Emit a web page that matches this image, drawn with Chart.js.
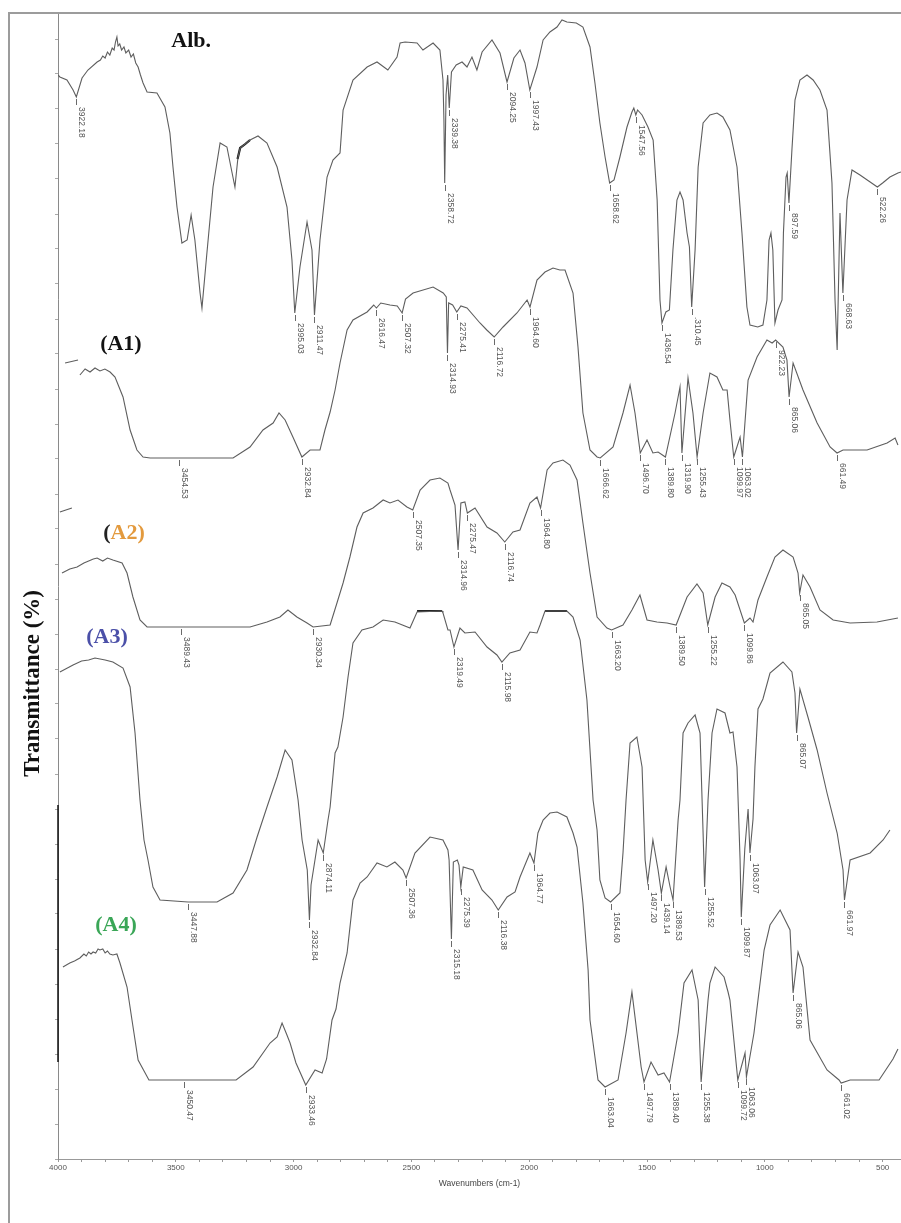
<!DOCTYPE html>
<html><head><meta charset="utf-8">
<script src="https://cdn.jsdelivr.net/npm/chart.js@4.4.1/dist/chart.umd.min.js"></script>
<style>html,body{margin:0;padding:0;background:#fff;overflow:hidden}canvas{display:block}</style>
</head><body>
<canvas id="c" width="901" height="1223"></canvas>
<script>
// [wavenumber (cm-1), transmittance (offset, arbitrary %)]
const albSpectrum = [[4000,108.4],[3992,108.2],[3962,107.9],[3936,106.9],[3922.18,106.2],[3898,108.1],[3873,108.9],[3834,109.7],[3820,109.9],[3810,110.3],[3800,110.1],[3790,110.7],[3780,110.4],[3770,111.1],[3762,110.9],[3756,111.7],[3750,112.2],[3745,111.3],[3738,111.5],[3730,110.9],[3720,111.2],[3712,110.6],[3700,110.9],[3690,110.2],[3680,110.5],[3670,109.6],[3660,109.2],[3650,108.4],[3639,107.6],[3622,106.7],[3580,106.6],[3546,105.2],[3525,102.6],[3512,99.2],[3495,95.2],[3474,91.6],[3452,91.9],[3435,94.4],[3419,91.9],[3397,86.6],[3389,85.1],[3368,90.6],[3342,97.2],[3312,101.6],[3283,101.2],[3261,98.6],[3249,97.2],[3236,100.2],[3227,101.1],[3185,101.9],[3151,102.3],[3113,101.6],[3070,99.2],[3028,95.2],[3007,89.9],[2995.03,84.6],[2973,89.2],[2943,93.7],[2922,90.9],[2911.47,84.4],[2888,91.9],[2858,98.2],[2833,99.9],[2803,100.6],[2790,104.9],[2748,107.9],[2688,109.2],[2646,109.7],[2600,108.9],[2561,110.2],[2548,111.6],[2527,111.7],[2476,111.6],[2451,110.9],[2408,111.6],[2379,110.9],[2366,107.9],[2362,103.9],[2358.72,97.6],[2353,106.4],[2346,108.4],[2339.38,105.1],[2330,108.7],[2310,109.4],[2285,109.7],[2264,109.2],[2243,110.2],[2222,108.9],[2200,110.7],[2158,111.9],[2124,110.6],[2094.25,107.7],[2065,110.1],[2039,110.9],[2018,109.6],[1997.43,106.9],[1967,109.2],[1941,111.9],[1912,112.7],[1882,113.2],[1861,113.9],[1840,113.7],[1800,113.6],[1772,113.2],[1742,111.2],[1721,107.6],[1700,103.6],[1678,100.2],[1658.62,97.6],[1640,97.9],[1615,100.2],[1585,103.2],[1564,104.7],[1556,105.1],[1547.56,104.4],[1540,104.9],[1521,104.4],[1496,103.2],[1474,101.9],[1457,95.9],[1445,85.9],[1436.54,83.6],[1420,84.7],[1405,84.9],[1390,90.9],[1373,95.9],[1360,96.7],[1347,95.9],[1330,92.6],[1320,91.2],[1310.45,85.2],[1296,90.9],[1283,99.2],[1262,103.6],[1233,104.4],[1203,104.6],[1178,104.2],[1148,102.9],[1118,99.2],[1097,92.6],[1076,85.2],[1063,83.4],[1030,83.2],[1008,83.4],[991,85.9],[982,91.9],[974,92.6],[966,90.9],[957,83.6],[944,84.9],[927,85.9],[921,92.6],[910,98.2],[905,98.6],[897.59,95.6],[885,100.9],[872,105.9],[851,107.9],[821,108.4],[795,107.9],[766,106.9],[736,104.9],[715,97.6],[702,85.9],[693,80.9],[681,94.6],[668.63,86.6],[651,95.9],[630,98.9],[596,98.4],[553,97.7],[522.26,97.2],[500,97.6],[469,98.2],[435,98.6],[422,98.7]];
const albMark = [[3238,100.0],[3227,101.1],[3205,101.5],[3185,101.9]];

const a1Spectrum = [[3970,79.6],[3915,79.9],[3912,null],[3907,78.4],[3885,79.0],[3864,78.7],[3843,79.1],[3822,78.8],[3801,79.0],[3779,78.7],[3758,78.2],[3724,76.2],[3694,72.9],[3665,70.9],[3639,70.2],[3609,70.1],[3486.53,70.1],[3257,70.1],[3185,71.2],[3130,72.9],[3087,73.6],[3062,74.6],[3036,73.9],[3003,72.2],[2964.84,70.2],[2930,70.9],[2888,70.9],[2867,72.9],[2845,74.7],[2824,76.9],[2803,79.6],[2773,82.9],[2748,83.9],[2688,84.7],[2660,85.4],[2648.47,85.1],[2630,85.6],[2591,85.4],[2560,85.3],[2539.32,84.6],[2525,86.0],[2493,86.6],[2408,87.2],[2365,86.6],[2352,86.2],[2346.93,80.6],[2342,85.6],[2325,85.4],[2307.41,84.7],[2290,85.3],[2264,85.1],[2209,83.6],[2180,82.9],[2148.72,82.2],[2111,83.2],[2052,84.6],[2009,85.9],[1996.6,85.2],[1967,87.9],[1933,88.7],[1899,89.1],[1870,88.9],[1848,88.9],[1814,86.6],[1793,81.2],[1772,74.6],[1742,70.9],[1712,70.2],[1698.62,70.1],[1644,71.2],[1602,74.6],[1572,77.4],[1551,74.6],[1528.7,70.6],[1500,71.9],[1475,70.6],[1453,70.7],[1421.8,70.2],[1381,74.6],[1360,77.2],[1351.9,70.6],[1326,78.1],[1305,74.6],[1287.43,70.2],[1262,74.6],[1233,78.6],[1203,78.2],[1178,76.9],[1160,76.9],[1148,73.9],[1131.97,70.2],[1105,72.2],[1095.02,70.2],[1071,77.9],[1033,80.2],[991,81.9],[969,81.6],[954.23,81.9],[923,81.2],[906,79.9],[897.06,76.2],[880,79.6],[838,76.9],[778,73.6],[723,71.2],[693.49,70.6],[668,70.9],[566,70.9],[481,71.6],[447,72.1],[435,71.4]];

const a2Spectrum = [[3992,64.7],[3941,65.1],[3960,null],[3983,58.6],[3950,59.0],[3919,59.2],[3890,59.6],[3870,59.8],[3850,60.0],[3834,60.1],[3810,59.8],[3790,60.1],[3767,59.9],[3728,59.6],[3707,58.6],[3682,56.2],[3652,53.9],[3622,53.2],[3476.43,53.2],[3185,53.2],[3113,53.7],[3058,54.2],[3024,54.9],[2986,54.2],[2943,53.6],[2917.34,53.2],[2845,53.4],[2816,55.6],[2790,57.6],[2761,60.2],[2731,63.2],[2705,64.6],[2663,65.1],[2620,65.9],[2591,65.6],[2557,65.9],[2519,65.2],[2494.35,64.9],[2463,66.9],[2421,67.9],[2379,68.1],[2345,67.6],[2336,66.9],[2315,65.4],[2301.96,60.9],[2290,65.6],[2273,65.7],[2262.47,64.6],[2230,65.1],[2179,63.2],[2137,62.6],[2103.74,61.7],[2069,62.7],[2039,62.9],[1997,65.6],[1967,66.2],[1951.8,65.1],[1924,68.9],[1899,69.6],[1857,69.9],[1827,69.4],[1797,67.9],[1772,63.6],[1742,58.6],[1712,54.2],[1670,53.1],[1650.2,52.9],[1602,53.4],[1564,54.9],[1530,56.4],[1500,53.9],[1458,53.7],[1415,53.6],[1376.5,53.4],[1330,56.2],[1288,57.5],[1262,56.6],[1242.22,53.4],[1211,56.2],[1182,57.6],[1148,57.2],[1126,56.4],[1086.86,53.6],[1063,54.1],[1050,53.7],[1029,55.9],[991,58.2],[957,60.2],[923,60.9],[880,60.2],[859,58.6],[852.05,56.6],[838,58.4],[808,57.2],[766,54.9],[710,53.9],[638,53.6],[524,53.7],[435,54.1]];

const a3Spectrum = [[3992,48.7],[3936,49.4],[3900,49.8],[3870,49.9],[3843,50.1],[3800,49.9],[3767,49.7],[3724,49.1],[3694,47.2],[3673,42.6],[3652,35.9],[3635,31.9],[3618,29.9],[3597,27.2],[3567,25.9],[3447.88,25.7],[3325,25.7],[3257,26.6],[3198,28.9],[3155,32.2],[3113,35.2],[3070,38.2],[3036,40.9],[3007,39.9],[2981,35.9],[2964,31.9],[2942,28.9],[2932.84,23.9],[2926,27.4],[2896,31.9],[2874.11,30.6],[2854,33.9],[2845,35.2],[2824,40.6],[2812,41.2],[2790,44.2],[2769,48.2],[2748,51.6],[2710,52.9],[2663,53.2],[2620,53.9],[2570,53.7],[2506,53.1],[2476,54.7],[2370,54.8],[2366,54.6],[2345,52.9],[2336,52.9],[2319.49,51.2],[2294,53.1],[2273,52.6],[2230,52.7],[2179,51.2],[2137,50.4],[2115.98,49.7],[2082,50.6],[2039,50.9],[1997,52.7],[1967,52.6],[1954,53.4],[1933,54.8],[1840,54.8],[1814,54.2],[1784,51.9],[1755,45.9],[1729,35.9],[1712,32.9],[1700,27.9],[1678,26.1],[1654.6,25.7],[1615,26.6],[1602,30.6],[1589,35.9],[1572,41.6],[1543,42.2],[1521,39.2],[1508,29.9],[1497.2,27.7],[1475,31.9],[1453,28.9],[1439.14,26.6],[1419,29.2],[1402,27.2],[1389.53,25.9],[1368,33.9],[1360,35.9],[1347,42.6],[1326,43.6],[1296,44.4],[1275,42.6],[1262,32.6],[1255.52,27.2],[1241,35.9],[1224,42.6],[1203,45.0],[1169,44.6],[1148,42.6],[1135,42.7],[1118,39.2],[1105,29.9],[1099.87,24.2],[1085,31.0],[1071,35.0],[1063.07,30.6],[1050,34.0],[1042,39.2],[1029,45.0],[1008,46.0],[978,48.6],[923,49.7],[885,48.7],[872,46.6],[865.07,42.6],[851,47.0],[817,44.2],[778,40.9],[736,36.6],[693,32.6],[668,28.9],[661.97,25.9],[638,29.9],[553,30.6],[498,31.9],[469,32.9]];
const a3Marks = [[2476,54.8],[2370,54.8],[2100,null],[1933,54.8],[1840,54.8]];

const a4Spectrum = [[3979,19.2],[3950,19.6],[3930,19.8],[3907,20.1],[3890,20.5],[3880,20.3],[3870,20.7],[3860,20.5],[3851,20.7],[3840,20.6],[3830,21.0],[3822,20.9],[3810,21.0],[3800,20.6],[3790,20.8],[3780,20.5],[3767,20.4],[3750,20.5],[3737,19.6],[3707,17.2],[3686,13.9],[3660,9.9],[3614,7.9],[3465.47,7.9],[3244,7.9],[3172,9.2],[3100,11.6],[3070,12.2],[3049,13.6],[3030,12.5],[3015,11.6],[2990,9.6],[2948.46,7.4],[2909,8.9],[2879,8.6],[2860,10.0],[2837,13.9],[2820,15.0],[2803,17.6],[2773,20.6],[2748,25.9],[2718,27.6],[2688,28.2],[2646,29.6],[2604,29.2],[2570,29.7],[2536,28.9],[2522.36,28.1],[2485,30.6],[2421,32.2],[2366,31.9],[2345,30.9],[2340,29.9],[2330.18,22.0],[2322,29.7],[2305,29.9],[2298,29.4],[2290.39,27.2],[2280,29.2],[2239,28.9],[2200,26.9],[2158,25.9],[2131.38,24.9],[2094,26.2],[2060,26.7],[2039,28.2],[1997,30.6],[1979.77,29.6],[1963,32.6],[1941,33.9],[1912,34.6],[1882,34.7],[1840,34.2],[1814,32.6],[1797,31.2],[1772,25.6],[1750,18.9],[1742,13.9],[1708,7.9],[1678.04,7.2],[1623,7.9],[1589,12.6],[1564,16.7],[1525,9.2],[1512.79,7.7],[1483,9.7],[1453,8.4],[1428,8.6],[1404.4,7.7],[1368,12.6],[1343,17.6],[1309,18.9],[1283,15.9],[1270.38,7.7],[1241,15.9],[1233,17.6],[1211,19.2],[1173,18.2],[1156,16.7],[1148,15.9],[1114.72,7.9],[1084,10.6],[1078.06,8.2],[1046,12.6],[1029,15.9],[1003,20.9],[978,23.4],[935,24.9],[893,22.9],[880.06,16.6],[859,20.7],[838,19.2],[808,11.9],[736,8.9],[685,7.9],[676.02,7.6],[638,7.9],[515,7.9],[456,10.0],[435,11.0]];

// peak labels printed by the instrument software
const albPeaks = ['3922.18','2995.03','2911.47','2358.72','2339.38','2094.25','1997.43','1658.62','1547.56','1436.54','.310.45','897.59','668.63','522.26'];
const a1Peaks = ['3454.53','2932.84','2616.47','2507.32','2314.93','2275.41','2116.72','1964.60','1666.62','1496.70','1389.80','1319.90','1255.43','1099.97','1063.02','922.23','865.06','661.49'];
const a2Peaks = ['3489.43','2930.34','2507.35','2314.96','2275.47','2116.74','1964.80','1663.20','1389.50','1255.22','1099.86','865.05'];
const a3Peaks = ['3447.88','2932.84','2874.11','2319.49','2115.98','1654.60','1497.20','1439.14','1389.53','1255.52','1099.87','1063.07','865.07','661.97'];
const a4Peaks = ['3450.47','2933.46','2507.36','2315.18','2275.39','2116.38','1964.77','1663.04','1497.79','1389.40','1255.38','1099.72','1063.06','865.06','661.02'];
// horizontal misregistration of each pasted spectrum (cm-1)
const peakShift = [0, 32, -13, 0, 15];

const seriesNames = ['Alb.', '(A1)', '(A2)', '(A3)', '(A4)'];
const nameWn = [3435, 3733, 3720, 3792, 3754];
const nameT = [111.8, 81.5, 62.6, 52.2, 23.4];
const xTickLabels = [4000, 3500, 3000, 2500, 2000, 1500, 1000, 500];

const spectra = [albSpectrum, a1Spectrum, a2Spectrum, a3Spectrum, a4Spectrum];
const peaks = [albPeaks, a1Peaks, a2Peaks, a3Peaks, a4Peaks];
const toPts = arr => arr.map(p => ({x: p[0], y: p[1]}));
const lineColor = '#5e5e5e';

const datasets = spectra.map((s, i) => ({
  label: seriesNames[i], data: toPts(s), borderColor: lineColor, borderWidth: 1.1,
  pointRadius: 0, tension: 0, spanGaps: false, fill: false
}));
datasets.push({label: 'mark1', data: toPts(albMark), borderColor: '#111', borderWidth: 2.2, pointRadius: 0, tension: 0, fill: false});
datasets.push({label: 'mark2', data: toPts(a3Marks), borderColor: '#222', borderWidth: 1.8, pointRadius: 0, tension: 0, spanGaps: false, fill: false});

function findAnchor(arr, target) {
  let best = null;
  for (const p of arr) {
    if (p[1] === null) continue;
    if (Math.abs(p[0] - target) <= 12) {
      if (!best || p[1] < best[1]) best = p;
    }
  }
  if (best) return best;
  for (let i = 0; i < arr.length - 1; i++) {
    const a = arr[i], b = arr[i + 1];
    if (a[1] === null || b[1] === null) continue;
    if ((a[0] - target) * (b[0] - target) <= 0) {
      const t = (target - a[0]) / (b[0] - a[0]);
      return [target, a[1] + t * (b[1] - a[1])];
    }
  }
  return [target, 0];
}

const deco = {
  id: 'deco',
  beforeDraw(chart) {
    const ctx = chart.ctx;
    ctx.save(); ctx.fillStyle = '#fff'; ctx.fillRect(0, 0, chart.width, chart.height); ctx.restore();
  },
  afterDraw(chart) {
    const {ctx, chartArea: ca, scales: {x, y}} = chart;
    ctx.save();
    ctx.strokeStyle = '#9c9c9c'; ctx.lineWidth = 2;
    ctx.beginPath(); ctx.moveTo(8, ca.top); ctx.lineTo(chart.width, ca.top);
    ctx.moveTo(9, ca.top); ctx.lineTo(9, chart.height); ctx.stroke();
    ctx.strokeStyle = '#111'; ctx.lineWidth = 1.5;
    ctx.beginPath(); ctx.moveTo(ca.left, y.getPixelForValue(35.4)); ctx.lineTo(ca.left, y.getPixelForValue(9.7)); ctx.stroke();
    ctx.font = '8.5px "Liberation Sans", Arial, sans-serif';
    ctx.fillStyle = '#555'; ctx.strokeStyle = '#6a6a6a'; ctx.lineWidth = 1;
    peaks.forEach((list, si) => {
      list.forEach(txt => {
        const target = parseFloat(txt.replace(/^\./, '1')) + peakShift[si];
        const a = findAnchor(spectra[si], target);
        const px = Math.round(x.getPixelForValue(a[0])) + 0.5;
        const py = y.getPixelForValue(a[1]);
        ctx.beginPath(); ctx.moveTo(px, py + 2); ctx.lineTo(px, py + 8); ctx.stroke();
        ctx.save(); ctx.translate(px + 5, py + 10); ctx.rotate(Math.PI / 2);
        ctx.textAlign = 'left'; ctx.textBaseline = 'middle'; ctx.fillText(txt, 0, 0);
        ctx.restore();
      });
    });
    ctx.font = 'bold 22px "Liberation Serif", "Times New Roman", serif';
    ctx.textBaseline = 'middle';
    const nameColors = [['#111'], ['#111'], ['#222', '#e39a3e'], ['#4b50a8'], ['#3aa657']];
    seriesNames.forEach((n, i) => {
      const cx = x.getPixelForValue(nameWn[i]), cy = y.getPixelForValue(nameT[i]);
      const w = ctx.measureText(n).width;
      const sx = cx - w / 2;
      ctx.textAlign = 'left';
      if (nameColors[i].length === 2) {
        ctx.fillStyle = nameColors[i][0]; ctx.fillText('(', sx, cy);
        const w0 = ctx.measureText('(').width;
        ctx.fillStyle = nameColors[i][1]; ctx.fillText(n.slice(1), sx + w0, cy);
      } else {
        ctx.fillStyle = nameColors[i][0]; ctx.fillText(n, sx, cy);
      }
    });
    ctx.save();
    ctx.translate(ca.left - 25, ca.top + 0.585 * (ca.bottom - ca.top));
    ctx.rotate(-Math.PI / 2);
    ctx.font = 'bold 23px "Liberation Serif", "Times New Roman", serif';
    ctx.fillStyle = '#111'; ctx.textAlign = 'center'; ctx.textBaseline = 'middle';
    ctx.fillText('Transmittance (%)', 0, 0);
    ctx.restore();
    ctx.restore();
  }
};

new Chart(document.getElementById('c'), {
  type: 'line',
  data: {datasets},
  options: {
    responsive: false, animation: false, devicePixelRatio: 1,
    layout: {padding: {top: 13, left: 0, right: 0, bottom: 0}},
    plugins: {legend: {display: false}, tooltip: {enabled: false}},
    scales: {
      x: {
        type: 'linear', reverse: true, min: 422, max: 4000,
        afterBuildTicks: s => { const t = []; for (let v = 500; v <= 4000; v += 100) t.push({value: v}); s.ticks = t; },
        afterFit: s => { s.height = 64; },
        ticks: {autoSkip: false, maxRotation: 0, padding: 1, color: '#555',
          font: {family: '"Liberation Sans", Arial', size: 8},
          callback: v => xTickLabels.includes(v) ? String(v) : ''},
        grid: {drawOnChartArea: false, drawTicks: true, tickLength: 3, color: '#999'},
        border: {display: true, color: '#999'},
        title: {display: true, text: 'Wavenumbers (cm-1)', color: '#444',
          font: {family: '"Liberation Sans", Arial', size: 8.5}, padding: {top: 0, bottom: 34}}
      },
      y: {
        type: 'linear', min: 0, max: 114.6, position: 'left',
        afterFit: s => { s.width = 58; },
        ticks: {stepSize: 3.5, autoSkip: false, callback: () => ''},
        grid: {drawOnChartArea: false, drawTicks: true, tickLength: 3, color: '#aaa'},
        border: {display: true, color: '#8a8a8a', dash: [2, 2]}
      }
    }
  },
  plugins: [deco]
});
</script>
</body></html>
